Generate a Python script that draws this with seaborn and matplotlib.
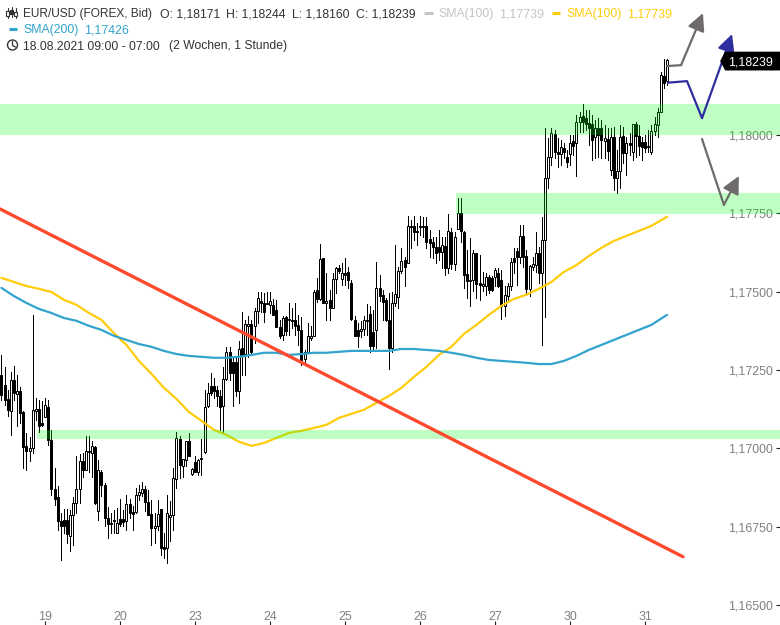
import matplotlib
matplotlib.use("Agg")
import matplotlib.pyplot as plt
import numpy as np
import pandas as pd
import seaborn as sns

# prices in 1e-5 units, one entry per hourly bar
opens = [
    117235, 117203, 117157, 117118, 117219, 117174, 117182, 117116, 117009, 116990,
    117001, 117120, 117125, 117081, 117100, 117132, 117027, 116870, 116845, 116769,
    116772, 116772, 116719, 116788, 116825, 116870, 116960, 116930, 116987, 116985,
    117004, 116799, 116926, 116884, 116778, 116762, 116772, 116730, 116774, 116774,
    116767, 116823, 116797, 116797, 116852, 116857, 116870, 116829, 116790, 116745,
    116751, 116806, 116685, 116682, 116781, 116786, 116902, 117031, 116942, 116964,
    117022, 116918, 116956, 116926, 116969, 116988, 117134, 117200, 117200, 117185,
    117166, 117134, 117222, 117309, 117275, 117275, 117182, 117320, 117301, 117389,
    117397, 117392, 117439, 117471, 117463, 117465, 117458, 117456, 117442, 117386,
    117362, 117418, 117410, 117405, 117410, 117394, 117378, 117284, 117309, 117351,
    117359, 117506, 117476, 117607, 117463, 117474, 117449, 117541, 117575, 117541,
    117559, 117562, 117527, 117410, 117378, 117376, 117380, 117405, 117428, 117371,
    117378, 117511, 117490, 117474, 117410, 117320, 117463, 117482, 117566, 117601,
    117591, 117706, 117708, 117695, 117706, 117706, 117711, 117667, 117658, 117642,
    117642, 117628, 117647, 117575, 117690, 117588, 117700, 117751, 117692, 117557,
    117533, 117538, 117623, 117527, 117517, 117517, 117546, 117543, 117546, 117559,
    117536, 117453, 117487, 117519, 117607, 117630, 117612, 117678, 117615, 117508,
    117580, 117586, 117623, 117559, 117665, 117863, 117930, 118003, 117946, 117939,
    117959, 117930, 117939, 117981, 117974, 118041, 118061, 118054, 118038, 118035,
    117994, 118022, 118022, 117981, 117987, 117888, 117994, 117863, 117885, 117997,
    117943, 117973, 117946, 118035, 117997, 117978, 117978, 117965, 117946, 118013,
    118032, 118073, 118188, 118171,
]
highs = [
    117299, 117261, 117187, 117245, 117263, 117235, 117195, 117118, 117049, 117036,
    117426, 117160, 117155, 117150, 117160, 117155, 117057, 116937, 116879, 116793,
    116806, 116806, 116804, 116845, 116974, 116983, 116985, 117040, 117040, 117022,
    117006, 116964, 116932, 116889, 116813, 116793, 116804, 116809, 116839, 116804,
    116852, 116839, 116815, 116873, 116884, 116892, 116879, 116868, 116836, 116793,
    116836, 116806, 116730, 116852, 116831, 116937, 117051, 117040, 116966, 117022,
    117049, 116937, 116974, 116966, 117030, 117187, 117208, 117240, 117224, 117200,
    117187, 117261, 117323, 117323, 117293, 117293, 117341, 117434, 117410, 117421,
    117410, 117447, 117500, 117500, 117495, 117500, 117500, 117476, 117474, 117410,
    117423, 117423, 117463, 117447, 117463, 117426, 117420, 117314, 117399, 117389,
    117505, 117543, 117652, 117607, 117559, 117505, 117559, 117580, 117586, 117591,
    117607, 117580, 117538, 117421, 117399, 117405, 117421, 117461, 117453, 117442,
    117596, 117554, 117506, 117479, 117495, 117500, 117649, 117580, 117639, 117612,
    117742, 117729, 117742, 117718, 117740, 117738, 117738, 117697, 117676, 117676,
    117697, 117674, 117676, 117748, 117703, 117692, 117798, 117798, 117695, 117634,
    117671, 117634, 117623, 117618, 117564, 117559, 117554, 117551, 117575, 117575,
    117570, 117519, 117527, 117607, 117639, 117639, 117713, 117713, 117634, 117586,
    117612, 117692, 117644, 117738, 118022, 117990, 118022, 118016, 117990, 117984,
    117974, 117952, 118000, 118000, 118064, 118073, 118099, 118080, 118080, 118064,
    118048, 118054, 118048, 118032, 118022, 118022, 118026, 117952, 118032, 118026,
    117994, 118006, 118035, 118041, 118032, 117994, 118000, 118016, 118032, 118057,
    118086, 118201, 118241, 118244,
]
lows = [
    117155, 117139, 117102, 117043, 117155, 117070, 117081, 116937, 116932, 116961,
    116985, 117091, 117051, 117070, 117100, 117011, 116852, 116820, 116740, 116642,
    116730, 116698, 116671, 116692, 116793, 116825, 116910, 116932, 116926, 116910,
    116823, 116772, 116847, 116751, 116713, 116730, 116730, 116730, 116751, 116751,
    116740, 116778, 116740, 116793, 116836, 116847, 116799, 116788, 116692, 116698,
    116740, 116661, 116650, 116634, 116703, 116740, 116873, 116905, 116910, 116942,
    116974, 116916, 116924, 116916, 116916, 116985, 117132, 117171, 117160, 117134,
    117059, 117051, 117219, 117219, 117134, 117166, 117144, 117235, 117235, 117293,
    117299, 117336, 117399, 117436, 117404, 117463, 117431, 117426, 117386, 117351,
    117346, 117362, 117362, 117383, 117362, 117330, 117266, 117277, 117303, 117346,
    117357, 117468, 117474, 117463, 117410, 117410, 117447, 117495, 117559, 117522,
    117522, 117511, 117410, 117357, 117323, 117355, 117362, 117362, 117309, 117314,
    117320, 117469, 117410, 117405, 117253, 117309, 117453, 117447, 117559, 117519,
    117591, 117639, 117665, 117649, 117681, 117676, 117639, 117612, 117607, 117591,
    117601, 117575, 117554, 117559, 117572, 117570, 117700, 117660, 117511, 117479,
    117453, 117501, 117479, 117474, 117501, 117488, 117495, 117501, 117517, 117515,
    117412, 117421, 117469, 117506, 117559, 117522, 117591, 117580, 117495, 117485,
    117570, 117564, 117527, 117331, 117419, 117831, 117904, 117927, 117898, 117904,
    117927, 117898, 117904, 117936, 117869, 118010, 118010, 118016, 117968, 117920,
    117927, 117930, 117927, 117927, 117920, 117872, 117825, 117815, 117831, 117911,
    117872, 117936, 117920, 117930, 117936, 117920, 117946, 117946, 117939, 118000,
    117994, 118073, 118150, 118160,
]
closes = [
    117171, 117155, 117121, 117219, 117176, 117182, 117112, 117004, 116990, 117001,
    117123, 117125, 117072, 117075, 117137, 117027, 116870, 116839, 116769, 116751,
    116751, 116726, 116788, 116825, 116870, 116960, 116930, 116990, 116990, 117006,
    116825, 116930, 116882, 116778, 116758, 116758, 116767, 116762, 116759, 116764,
    116823, 116793, 116790, 116852, 116860, 116870, 116829, 116788, 116746, 116751,
    116791, 116682, 116680, 116793, 116788, 116905, 117033, 116946, 116966, 117022,
    116977, 116934, 116926, 116964, 116966, 117132, 117176, 117176, 117182, 117166,
    117132, 117222, 117309, 117240, 117240, 117182, 117317, 117299, 117397, 117397,
    117309, 117439, 117479, 117463, 117436, 117461, 117470, 117426, 117386, 117357,
    117417, 117376, 117412, 117410, 117391, 117378, 117282, 117309, 117357, 117359,
    117500, 117476, 117603, 117463, 117470, 117447, 117540, 117575, 117567, 117559,
    117552, 117538, 117412, 117357, 117357, 117380, 117408, 117410, 117327, 117325,
    117511, 117485, 117466, 117410, 117320, 117463, 117493, 117566, 117599, 117578,
    117708, 117708, 117689, 117689, 117710, 117710, 117660, 117655, 117642, 117625,
    117626, 117649, 117575, 117695, 117588, 117676, 117751, 117695, 117554, 117533,
    117538, 117623, 117524, 117522, 117524, 117546, 117506, 117504, 117570, 117517,
    117453, 117490, 117517, 117596, 117596, 117612, 117678, 117612, 117508, 117583,
    117587, 117623, 117559, 117665, 117863, 117930, 118006, 117946, 117939, 117962,
    117946, 117914, 117974, 117965, 118041, 118057, 118041, 118035, 118022, 117984,
    118022, 118000, 117984, 117990, 117949, 117994, 117863, 117885, 117994, 117943,
    117974, 117968, 118035, 117997, 117965, 117962, 117959, 117962, 118013, 118035,
    118073, 118191, 118167, 118239,
]

sma_bars = [0, 4, 8, 12, 16, 20, 24, 28, 32, 36, 40, 44, 48, 52, 56, 60, 64, 68, 72, 76, 80,
            84, 88, 92, 96, 100, 104, 108, 112, 116, 120, 124, 128, 132, 136, 140, 144, 148,
            152, 156, 160, 164, 168, 172, 176, 180, 184, 188, 192, 196, 200, 204, 208, 213]
sma100 = [117544, 117531, 117518, 117509, 117499, 117474, 117458, 117432, 117410, 117368,
          117330, 117279, 117238, 117193, 117158, 117116, 117088, 117059, 117043, 117021,
          117008, 117017, 117033, 117049, 117056, 117065, 117075, 117097, 117110, 117123,
          117145, 117167, 117193, 117228, 117260, 117298, 117324, 117365, 117394, 117426,
          117455, 117477, 117490, 117509, 117531, 117563, 117585, 117614, 117640, 117662,
          117678, 117694, 117710, 117739]
sma200 = [117512, 117486, 117464, 117445, 117432, 117416, 117407, 117391, 117378, 117359,
          117346, 117333, 117324, 117311, 117301, 117295, 117292, 117289, 117289, 117292,
          117298, 117305, 117305, 117298, 117301, 117305, 117305, 117308, 117311, 117311,
          117311, 117311, 117317, 117317, 117314, 117311, 117305, 117298, 117289, 117282,
          117279, 117276, 117273, 117269, 117269, 117279, 117295, 117314, 117330, 117346,
          117362, 117378, 117394, 117426]

trend_bars = [-0.45, 218.1]
trend_prices = [117764, 116654]

zone_starts = [-1, 145.5, 11.4]
zone_tops = [118099, 117815, 117057]
zone_bottoms = [118000, 117748, 117030]

grey_up_bars = [213, 217.5, 224.5]
grey_up_prices = [118220, 118223, 118389]
blue_bars = [213.3, 219.4, 224.2, 233.8]
blue_prices = [118167, 118172, 118054, 118322]
grey_down_bars = [224.2, 231.2, 236]
grey_down_prices = [117987, 117777, 117869]

day_ticks = [14, 38, 62, 86, 110, 134, 158, 182, 206]
day_labels = ["19", "20", "23", "24", "25", "26", "27", "30", "31"]
price_ticks = [1.165, 1.1675, 1.17, 1.1725, 1.175, 1.1775, 1.18]
price_labels = ["1,16500", "1,16750", "1,17000", "1,17250", "1,17500", "1,17750", "1,18000"]

sns.set_theme(style="white")
plt.rcParams["font.family"] = ["Liberation Sans", "DejaVu Sans"]

candles = pd.DataFrame({
    "open": opens, "high": highs, "low": lows, "close": closes,
}) / 1e5
candles["bar"] = candles.index
up = candles["close"] >= candles["open"]

figure = plt.figure(figsize=(7.8, 6.25), dpi=100)
ax = figure.add_axes([0, 0, 1, 1])
ax.set_xlim(-0.45, 249.15)
ax.set_ylim(1.164361, 1.184309)

ax.vlines(candles["bar"], candles["low"], candles["high"], color="black",
          linewidth=0.72, antialiased=False, zorder=2)
body_low = candles[["open", "close"]].min(axis=1)
body_high = candles[["open", "close"]].max(axis=1)
ax.bar(candles["bar"], body_high - body_low, bottom=body_low, width=0.66,
       color=np.where(up, "white", "black"), edgecolor="black", linewidth=0.72,
       zorder=2.5)

sns.lineplot(x=sma_bars, y=np.array(sma100) / 1e5, color="#ffcc0a", linewidth=1.6, ax=ax, zorder=3)
sns.lineplot(x=sma_bars, y=np.array(sma200) / 1e5, color="#31a3cc", linewidth=1.6, ax=ax, zorder=3)

for start, top, bottom in zip(zone_starts, zone_tops, zone_bottoms):
    ax.fill_between([start, 251], top / 1e5, bottom / 1e5, color="#00ff14", alpha=0.25,
                    linewidth=0, zorder=4)

sns.lineplot(x=trend_bars, y=np.array(trend_prices) / 1e5, color="#ff4a2e", linewidth=2.4,
             ax=ax, zorder=5)


def draw_arrow(bars, prices, color):
    prices = np.array(prices) / 1e5
    sns.lineplot(x=bars[:-1], y=prices[:-1], color=color, linewidth=1.6, sort=False,
                 estimator=None, ax=ax, zorder=6)
    ax.annotate("", xy=(bars[-1], prices[-1]), xytext=(bars[-2], prices[-2]), zorder=6,
                arrowprops=dict(arrowstyle="-|>,head_length=0.7,head_width=0.35", color=color,
                                linewidth=1.6, mutation_scale=15, shrinkA=0, shrinkB=0))


draw_arrow(grey_up_bars, grey_up_prices, "#6f6b6b")
draw_arrow(blue_bars, blue_prices, "#2e2e9e")
draw_arrow(grey_down_bars, grey_down_prices, "#6f6b6b")

# last price tag
last = closes[-1] / 1e5 - 0.00003
tag_h = 0.0003
ax.fill([230, 231.6, 251, 251, 231.6], [last, last + tag_h, last + tag_h, last - tag_h, last - tag_h],
        color="black", linewidth=0, zorder=7)
ax.text(247, last, "1,18239", color="white", fontsize=8.9, ha="right", va="center_baseline", zorder=8)

ax.set_xticks(day_ticks, day_labels)
ax.yaxis.tick_right()
ax.set_yticks(price_ticks, price_labels)
ax.tick_params(axis="x", direction="in", length=3, width=0.8, color="#222222", pad=-10.4,
               labelsize=8.9, labelcolor="#808080", bottom=True)
ax.tick_params(axis="y", direction="in", length=3, width=0.8, color="#222222", pad=-5,
               labelsize=8.9, labelcolor="#808080", right=True)
for label in ax.get_yticklabels():
    label.set_ha("right")
for label in ax.get_xticklabels():
    label.set_va("top")
sns.despine(ax=ax, left=True, right=True, top=True, bottom=True)

# header drawn on a transparent pixel-sized layer
header = figure.add_axes([0, 0, 1, 1])
header.set_xlim(0, 780)
header.set_ylim(625, 0)
header.set_axis_off()
header.patch.set_alpha(0)
dark = "#333333"
for x, text, color, size in [
    (23, "EUR/USD (FOREX, Bid)", dark, 8.6),
    (160, "O: 1,18171", dark, 8.8),
    (226.5, "H: 1,18244", dark, 8.8),
    (292.5, "L: 1,18160", dark, 8.8),
    (356, "C: 1,18239", dark, 8.8),
    (438, "SMA(100)", "#c4c4c4", 8.8),
    (499, "1,17739", "#c4c4c4", 8.9),
    (566, "SMA(100)", "#ffcc0a", 8.8),
    (627, "1,17739", "#ffcc0a", 8.9),
]:
    header.text(x, 13, text, color=color, fontsize=size, va="center_baseline")
header.text(23, 29, "SMA(200)", color="#31a3cc", fontsize=8.8, va="center_baseline")
header.text(84, 29, "1,17426", color="#31a3cc", fontsize=8.9, va="center_baseline")
header.text(23, 45, "18.08.2021 09:00 - 07:00", color=dark, fontsize=8.8, va="center_baseline")
header.text(169, 45, "(2 Wochen, 1 Stunde)", color=dark, fontsize=8.75, va="center_baseline")

for x0, x1, y, color in [(424, 433, 13, "#c4c4c4"), (552, 560, 13, "#ffcc0a"), (9, 17, 29, "#31a3cc")]:
    header.plot([x0, x1], [y, y], color=color, linewidth=2.2, solid_capstyle="butt")

# candle icon
for x, top, bottom, y0, y1 in [(7.5, 8, 18, 11, 16), (11.5, 7, 17, 10, 14), (15.5, 8, 18, 12, 16)]:
    header.plot([x, x], [top, bottom], color=dark, linewidth=0.8)
    header.add_patch(plt.Rectangle((x - 1.2, y0), 2.4, y1 - y0, facecolor=dark if x == 11.5 else "white",
                                   edgecolor=dark, linewidth=0.8, zorder=3))
# clock icon
header.add_patch(plt.Circle((12.5, 45), 5, fill=False, edgecolor=dark, linewidth=1.0))
header.plot([12.5, 12.5, 15.5], [41.5, 45.5, 47], color=dark, linewidth=0.9)
header.set_xlim(0, 780)
header.set_ylim(625, 0)

figure.savefig("out.png", dpi=100)
